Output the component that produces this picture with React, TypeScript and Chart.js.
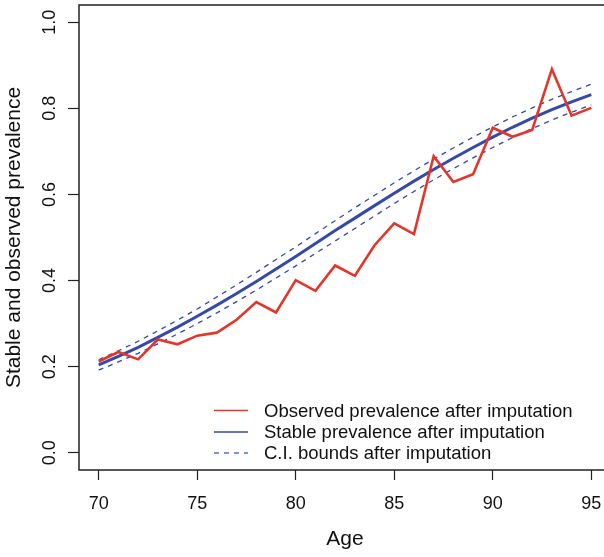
import React, { useEffect, useRef } from "react";
import { Chart, registerables } from "chart.js";

Chart.register(...registerables);

const ages = [70, 71, 72, 73, 74, 75, 76, 77, 78, 79, 80, 81, 82, 83, 84, 85, 86, 87, 88, 89, 90, 91, 92, 93, 94, 95];
const observed = [0.212, 0.234, 0.217, 0.263, 0.252, 0.272, 0.279, 0.309, 0.35, 0.326, 0.401, 0.376, 0.435, 0.411, 0.482, 0.533, 0.508, 0.689, 0.629, 0.647, 0.755, 0.734, 0.75, 0.891, 0.783, 0.801];
const stable = [0.204, 0.224, 0.245, 0.268, 0.292, 0.317, 0.343, 0.37, 0.398, 0.427, 0.456, 0.486, 0.516, 0.545, 0.574, 0.603, 0.631, 0.658, 0.684, 0.709, 0.733, 0.756, 0.777, 0.797, 0.815, 0.832];
const ciUpper = [0.216, 0.237, 0.259, 0.283, 0.308, 0.334, 0.362, 0.39, 0.419, 0.449, 0.478, 0.509, 0.539, 0.569, 0.598, 0.627, 0.655, 0.682, 0.708, 0.733, 0.757, 0.78, 0.801, 0.821, 0.839, 0.856];
const ciLower = [0.192, 0.211, 0.231, 0.253, 0.276, 0.3, 0.325, 0.351, 0.378, 0.406, 0.434, 0.463, 0.492, 0.521, 0.55, 0.579, 0.607, 0.634, 0.66, 0.685, 0.709, 0.732, 0.753, 0.773, 0.791, 0.808];

const xTicks = [70, 75, 80, 85, 90, 95];
const yTicks = [0, 0.2, 0.4, 0.6, 0.8, 1.0];
const legendLabels = [
  "Observed prevalence after imputation",
  "Stable prevalence after imputation",
  "C.I. bounds after imputation",
];
const xTitle = "Age";
const yTitle = "Stable and observed prevalence";

const RED = "#E4352A";
const BLUE = "#3549A6";
const FONT = "'Liberation Sans', Arial, Helvetica, sans-serif";

const toPts = (vals: number[]) => ages.map((a, i) => ({ x: a, y: vals[i] }));

const boxPlugin = {
  id: "rBox",
  afterDatasetsDraw(chart: any) {
    const { ctx, chartArea } = chart;
    ctx.save();
    ctx.strokeStyle = "#222";
    ctx.lineWidth = 1.5;
    ctx.strokeRect(chartArea.left, chartArea.top, chartArea.right - chartArea.left, chartArea.bottom - chartArea.top);
    ctx.restore();
  },
};

const legendPlugin = {
  id: "rLegend",
  afterDraw(chart: any) {
    const { ctx, chartArea } = chart;
    const styles = [
      { color: RED, width: 1.5, dash: [] as number[] },
      { color: BLUE, width: 1.5, dash: [] as number[] },
      { color: BLUE, width: 1.2, dash: [5, 5] },
    ];
    const x0 = chartArea.left + 135;
    const rowY = [chartArea.bottom - 59.5, chartArea.bottom - 38, chartArea.bottom - 17];
    ctx.save();
    ctx.font = `18.5px ${FONT}`;
    ctx.textBaseline = "middle";
    ctx.textAlign = "left";
    legendLabels.forEach((lab, i) => {
      const s = styles[i];
      ctx.beginPath();
      ctx.setLineDash(s.dash);
      ctx.strokeStyle = s.color;
      ctx.lineWidth = s.width;
      ctx.moveTo(x0, rowY[i]);
      ctx.lineTo(x0 + 34, rowY[i]);
      ctx.stroke();
      ctx.setLineDash([]);
      ctx.fillStyle = "#111";
      ctx.fillText(lab, x0 + 50, rowY[i] + 1);
    });
    ctx.restore();
  },
};

export default function App() {
  const ref = useRef<HTMLCanvasElement | null>(null);

  useEffect(() => {
    if (!ref.current) return;
    const chart = new Chart(ref.current, {
      type: "line",
      data: {
        datasets: [
          {
            label: legendLabels[0],
            data: toPts(observed),
            borderColor: RED,
            borderWidth: 2.6,
            pointRadius: 0,
            tension: 0,
            order: 0,
          },
          {
            label: legendLabels[1],
            data: toPts(stable),
            borderColor: BLUE,
            borderWidth: 3,
            pointRadius: 0,
            tension: 0,
            order: 1,
          },
          {
            label: legendLabels[2],
            data: toPts(ciUpper),
            borderColor: BLUE,
            borderWidth: 1.3,
            borderDash: [5, 5],
            pointRadius: 0,
            tension: 0,
            order: 2,
          },
          {
            label: legendLabels[2] + " (lower)",
            data: toPts(ciLower),
            borderColor: BLUE,
            borderWidth: 1.3,
            borderDash: [5, 5],
            pointRadius: 0,
            tension: 0,
            order: 3,
          },
        ],
      },
      options: {
        responsive: false,
        animation: false,
        devicePixelRatio: 1,
        layout: { padding: { left: 0, top: 5, right: 9, bottom: 0 } },
        plugins: {
          legend: { display: false },
          tooltip: { enabled: false },
        },
        scales: {
          x: {
            type: "linear",
            min: 69,
            max: 96,
            afterBuildTicks: (s: any) => {
              s.ticks = xTicks.map((v) => ({ value: v }));
            },
            afterFit: (s: any) => {
              s.height = 87;
              s.paddingLeft = 0;
              s.paddingRight = 0;
            },
            grid: { drawOnChartArea: false, drawTicks: true, tickLength: 10, color: "#222", tickWidth: 1.2 },
            border: { display: false },
            ticks: {
              color: "#111",
              font: { family: FONT, size: 18 },
              padding: 13,
              maxRotation: 0,
              autoSkip: false,
              callback: (v: any) => String(v),
            },
            title: {
              display: true,
              text: xTitle,
              color: "#111",
              font: { family: FONT, size: 21 },
              padding: { top: 0, bottom: 5 },
            },
          },
          y: {
            type: "linear",
            min: -0.04,
            max: 1.04,
            afterBuildTicks: (s: any) => {
              s.ticks = yTicks.map((v) => ({ value: v }));
            },
            afterFit: (s: any) => {
              s.width = 79;
              s.paddingTop = 0;
              s.paddingBottom = 0;
            },
            grid: { drawOnChartArea: false, drawTicks: true, tickLength: 11, color: "#222", tickWidth: 1.2 },
            border: { display: false },
            ticks: {
              color: "#111",
              font: { family: FONT, size: 18 },
              padding: 5,
              minRotation: 90,
              maxRotation: 90,
              crossAlign: "center",
              autoSkip: false,
              callback: (v: any) => Number(v).toFixed(1),
            },
            title: {
              display: true,
              text: yTitle,
              color: "#111",
              font: { family: FONT, size: 21 },
              padding: { top: 2, bottom: 0 },
            },
          },
        },
      },
      plugins: [boxPlugin, legendPlugin],
    } as any);
    return () => chart.destroy();
  }, []);

  return (
    <div style={{ position: "fixed", left: 0, top: 0, width: 604, height: 557, overflow: "hidden", background: "#fff" }}>
      <canvas ref={ref} width={620} height={557} style={{ display: "block", width: 620, height: 557 }} />
    </div>
  );
}
